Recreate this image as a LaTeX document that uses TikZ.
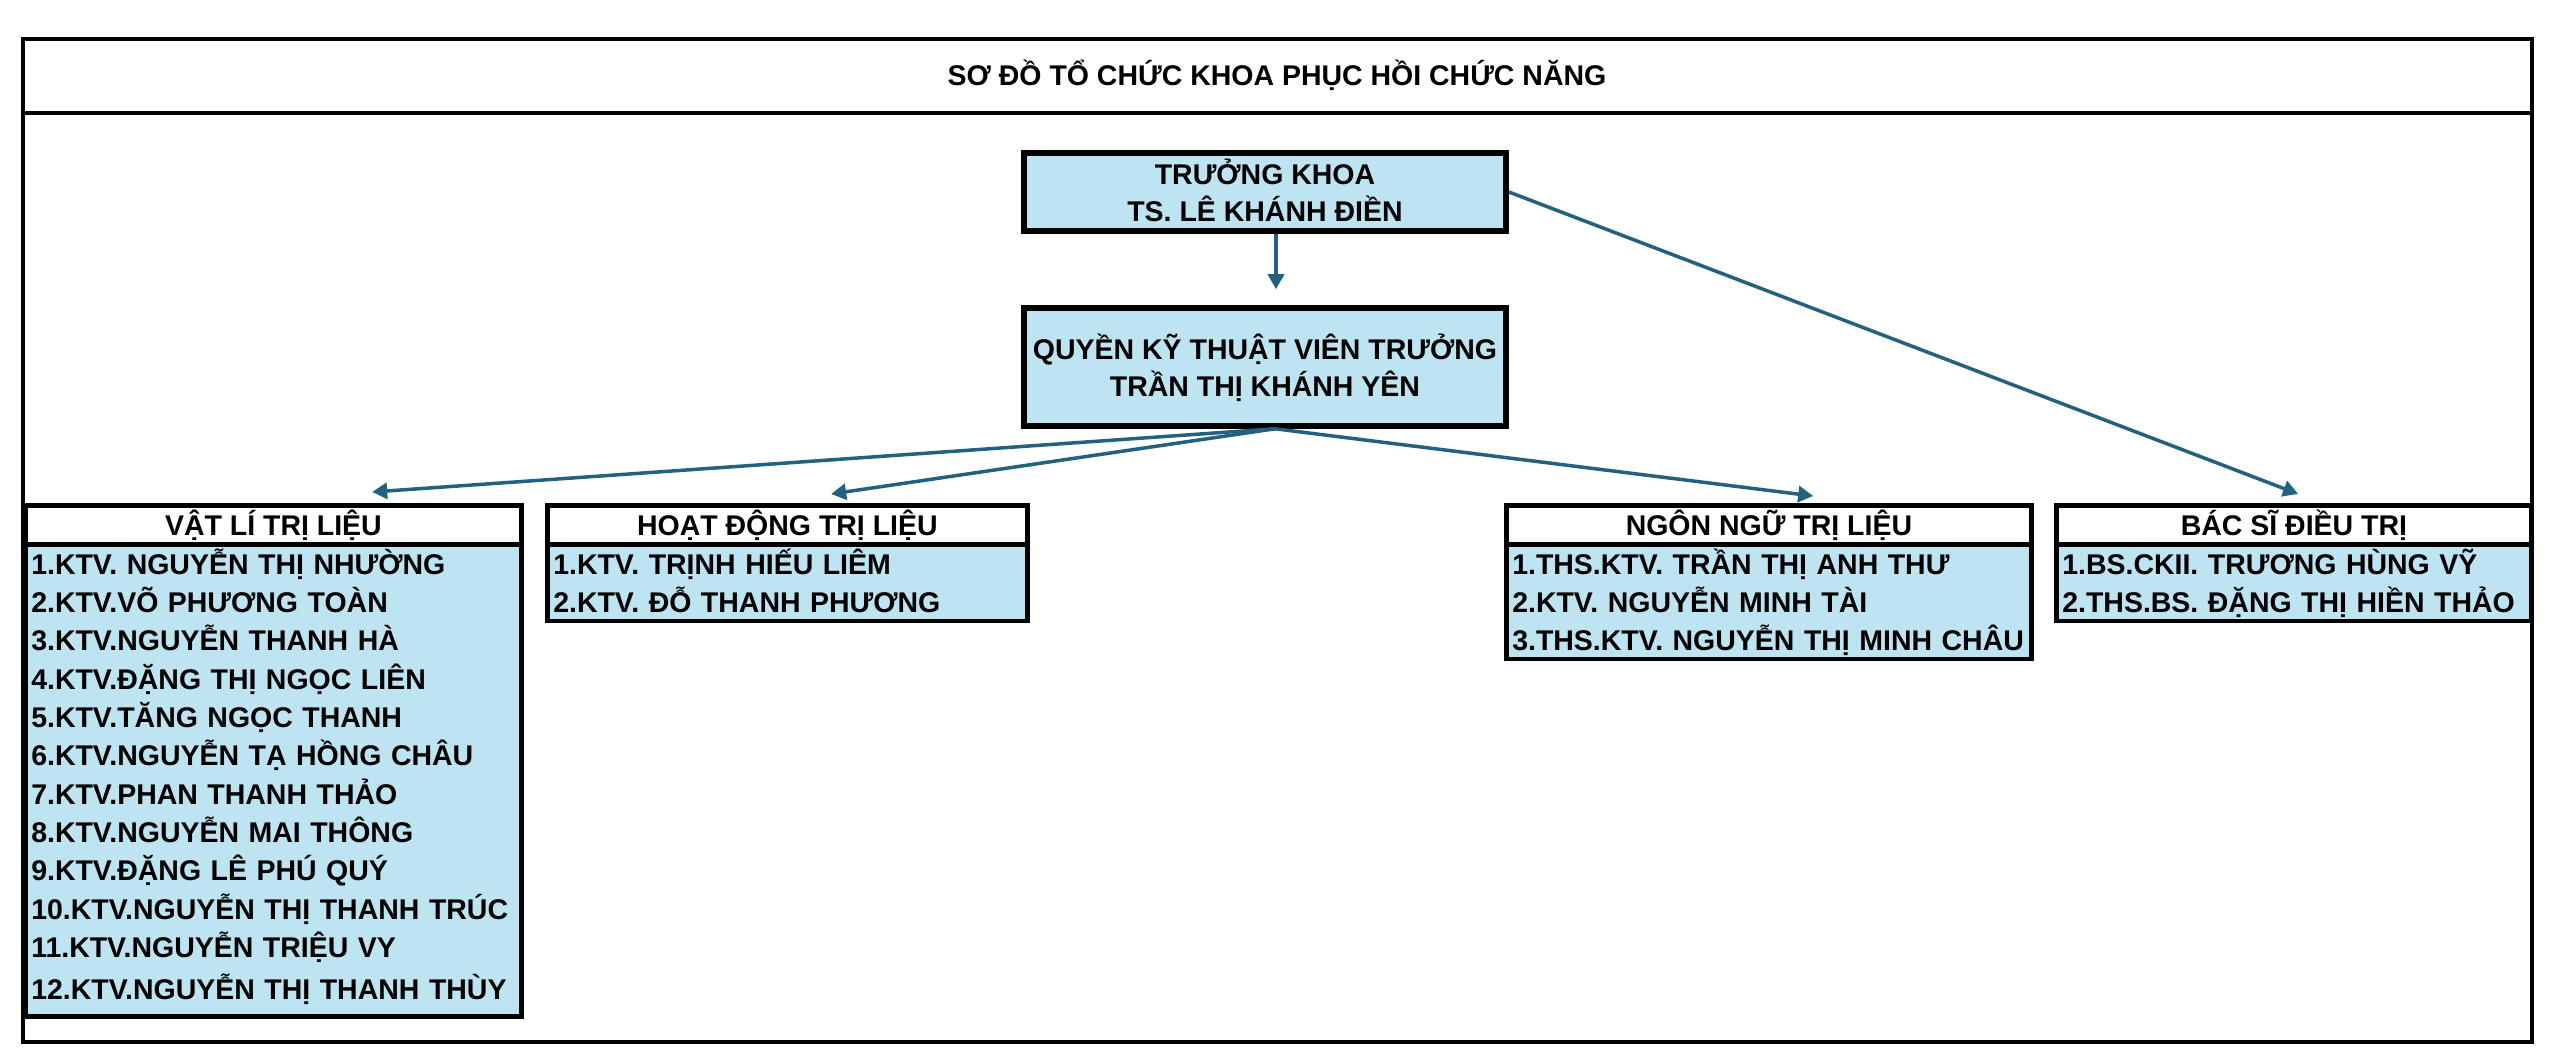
\documentclass[tikz,border=0pt]{standalone}
\usepackage{fontspec}
\setmainfont{Liberation Sans}
\usetikzlibrary{arrows.meta,calc}
\definecolor{boxblue}{RGB}{190,227,241}
\definecolor{arrowteal}{RGB}{34,98,128}
\newcommand{\lstrut}{\rule[-2.36pt]{0pt}{10.9pt}}
\newcommand{\laststrut}{\rule[-4.9pt]{0pt}{13.44pt}}
\newcommand{\bstrut}{\rule[-2pt]{0pt}{10.4pt}}
\begin{document}
\begin{tikzpicture}[x=0.01cm,y=-0.01cm,
  txt/.style={font=\fontsize{8.1}{10.9}\selectfont\bfseries},
  frame/.style={draw=black,line width=0.045cm},
  headbox/.style={txt,draw=black,line width=0.045cm,fill=white,inner sep=0pt,minimum height=0.39cm,text height=8.2pt,text depth=2.36pt,anchor=north west,align=center},
  listbox/.style={txt,draw=black,line width=0.045cm,fill=boxblue,inner xsep=0.06cm,inner ysep=0pt,anchor=north west,align=left},
  topbox/.style={font=\fontsize{8.1}{10.4}\selectfont\bfseries,draw=black,line width=0.055cm,fill=boxblue,inner sep=0pt,minimum width=4.82cm,align=center},
  arr/.style={draw=arrowteal,line width=0.035cm,-{Triangle[length=1.5mm,width=1.6mm]}}
]
\useasboundingbox (0,0) rectangle (2560,1061);
\fill[white] (0,0) rectangle (2560,1061);
% outer frame
\draw[frame] (23,39) rectangle (2532,1042);
\draw[frame] (23,113) -- (2532,113);
\node[txt,anchor=base,inner sep=0pt] (title) at (1277,86) {SƠ ĐỒ TỔ CHỨC KHOA PHỤC HỒI CHỨC NĂNG};
% top boxes
\node[topbox,minimum height=0.78cm] (head) at (1265,192) {\bstrut TRƯỞNG KHOA\\\bstrut TS. LÊ KHÁNH ĐIỀN};
\node[topbox,minimum height=1.18cm] (deputy) at (1265,367) {\bstrut QUYỀN KỸ THUẬT VIÊN TRƯỞNG\\\bstrut TRẦN THỊ KHÁNH YÊN};
% VLTL
\node[headbox,minimum width=4.96cm] (vlh) at (23,503) {VẬT LÍ TRỊ LIỆU};
\node[listbox,text width=4.84cm] (vll) at (23,542) {\lstrut 1.KTV. NGUYỄN THỊ NHƯỜNG\\\lstrut 2.KTV.VÕ PHƯƠNG TOÀN\\\lstrut 3.KTV.NGUYỄN THANH HÀ\\\lstrut 4.KTV.ĐẶNG THỊ NGỌC LIÊN\\\lstrut 5.KTV.TĂNG NGỌC THANH\\\lstrut 6.KTV.NGUYỄN TẠ HỒNG CHÂU\\\lstrut 7.KTV.PHAN THANH THẢO\\\lstrut 8.KTV.NGUYỄN MAI THÔNG\\\lstrut 9.KTV.ĐẶNG LÊ PHÚ QUÝ\\\lstrut 10.KTV.NGUYỄN THỊ THANH TRÚC\\\lstrut 11.KTV.NGUYỄN TRIỆU VY\\\laststrut 12.KTV.NGUYỄN THỊ THANH THÙY};
% HDTL
\node[headbox,minimum width=4.8cm] (hdh) at (545,503) {HOẠT ĐỘNG TRỊ LIỆU};
\node[listbox,text width=4.68cm] (hdl) at (545,542) {\lstrut 1.KTV. TRỊNH HIẾU LIÊM\\\lstrut 2.KTV. ĐỖ THANH PHƯƠNG};
% NNTL
\node[headbox,minimum width=5.25cm] (nnh) at (1504,503) {NGÔN NGỮ TRỊ LIỆU};
\node[listbox,text width=5.13cm] (nnl) at (1504,542) {\lstrut 1.THS.KTV. TRẦN THỊ ANH THƯ\\\lstrut 2.KTV. NGUYỄN MINH TÀI\\\lstrut 3.THS.KTV. NGUYỄN THỊ MINH CHÂU};
% BSDT
\node[headbox,minimum width=4.75cm] (bsh) at (2054,503) {BÁC SĨ ĐIỀU TRỊ};
\node[listbox,text width=4.63cm] (bsl) at (2054,542) {\lstrut 1.BS.CKII. TRƯƠNG HÙNG VỸ\\\lstrut 2.THS.BS. ĐẶNG THỊ HIỀN THẢO};
% connectors
\coordinate (src) at ([xshift=0.1cm]deputy.south);
\draw[arr] ([xshift=0.11cm]head.south) -- ([xshift=0.11cm,yshift=0.16cm]deputy.north);
\draw[arr] (src) -- ([xshift=3.49cm,yshift=0.11cm]vlh.north west);
\draw[arr] (src) -- ([xshift=2.86cm,yshift=0.09cm]hdh.north west);
\draw[arr] (src) -- ([xshift=3.09cm,yshift=0.07cm]nnh.north west);
\draw[arr] (head.east) -- ([xshift=2.44cm,yshift=0.09cm]bsh.north west);
\end{tikzpicture}
\end{document}
